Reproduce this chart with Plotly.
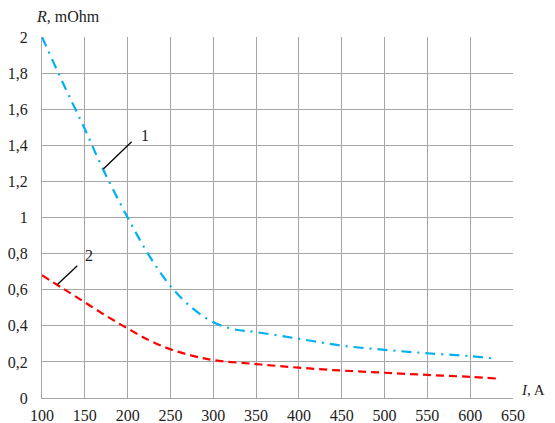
import plotly.graph_objects as go

x1 = [100, 125, 150, 170, 200, 225, 250, 275, 300, 325, 350, 400, 450, 500, 550, 600, 625]
r1 = [2.0, 1.74, 1.49, 1.28, 1.0, 0.79, 0.62, 0.5, 0.42, 0.38, 0.365, 0.328, 0.29, 0.267, 0.248, 0.232, 0.22]
x2 = [100, 125, 150, 175, 200, 225, 250, 275, 300, 350, 400, 450, 500, 550, 600, 630]
r2 = [0.68, 0.605, 0.53, 0.455, 0.385, 0.32, 0.27, 0.235, 0.21, 0.188, 0.168, 0.152, 0.14, 0.128, 0.117, 0.108]

font = dict(family="Liberation Serif", size=16, color="#222222")
fig = go.Figure()
fig.add_trace(go.Scatter(x=x1, y=r1, mode="lines",
                         line=dict(color="#00b0f0", width=2.2, dash="10px,6px,2px,6px", shape="spline"), showlegend=False))
fig.add_trace(go.Scatter(x=x2, y=r2, mode="lines",
                         line=dict(color="#ff0000", width=2.2, dash="8px,5px", shape="spline"), showlegend=False))

# label leader lines
fig.add_shape(type="line", x0=204.7, y0=1.42, x1=171.6, y1=1.269, line=dict(color="black", width=1.3))
fig.add_shape(type="line", x0=141.2, y0=0.733, x1=118.3, y1=0.63, line=dict(color="black", width=1.3))
fig.add_annotation(x=220, y=1.455, text="1", showarrow=False, font=font)
fig.add_annotation(x=155, y=0.79, text="2", showarrow=False, font=font)

fig.add_annotation(xref="paper", yref="paper", x=0, xshift=-8, y=1.0, yshift=10, xanchor="left", yanchor="bottom",
                   text="<i>R</i>, mOhm", showarrow=False, font=font)
fig.add_annotation(xref="paper", yref="paper", x=1.0, xshift=6, y=0.0, yshift=-2, xanchor="left", yanchor="bottom",
                   text="<i>I</i>, A", showarrow=False, font=dict(family="Liberation Serif", size=15, color="#222222"))

# page body has an 8px margin, so the figure is sized to end at the window edge
fig.update_layout(
    width=547, height=415, margin=dict(l=34, r=42, t=29, b=25, autoexpand=False),
    plot_bgcolor="white", paper_bgcolor="white", separators=", ", font=font,
    xaxis=dict(range=[100, 650], tick0=100, dtick=50, showgrid=True, gridcolor="#a6a6a6", gridwidth=1,
               showline=True, linecolor="#a6a6a6", zeroline=False, ticks="", tickfont=font,
               automargin=False, ticklabelstandoff=3),
    yaxis=dict(range=[0, 2], dtick=0.2, showgrid=True, gridcolor="#a6a6a6", gridwidth=1,
               showline=True, linecolor="#a6a6a6", zeroline=False, ticks="", tickfont=font,
               automargin=False, ticklabelstandoff=10),
)
fig.write_html("out.html")
